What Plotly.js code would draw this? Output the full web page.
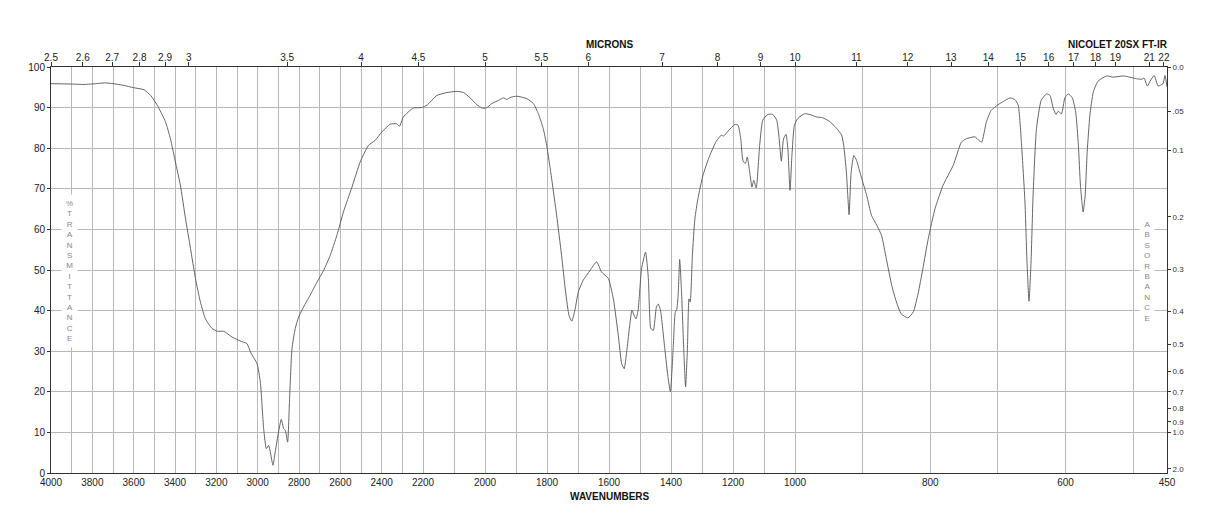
<!DOCTYPE html>
<html><head><meta charset="utf-8">
<script src="https://cdn.plot.ly/plotly-3.0.1.min.js"></script>
<style>html,body{margin:0;padding:0;background:#fff}#chart{width:1218px;height:528px}</style>
</head><body><div id="chart"></div>
<script>
// Spectrum: wavenumber (cm-1) and %T
const wavenumbers = [
4000,3900,3840,3780,3740,3700,3650,3600,3550,3518,3486,3446,3422,3398,3374,3349,3325,3301,3277,3253,
3221,3196,3164,3124,3084,3052,3035,3003,2987,2971,2958,2947,2939,2926,2915,2899,2886,2874,2866,2855,
2845,2834,2818,2802,2778,2746,2713,2681,2649,2617,2585,2544,2504,2464,2432,2399,2359,2327,2314,2295,
2247,2207,2187,2155,2123,2091,2069,2048,2026,2010,1996,1978,1956,1940,1930,1919,1897,1865,1844,1828,
1812,1801,1785,1769,1753,1740,1729,1720,1710,1699,1683,1661,1640,1624,1602,1586,1570,1559,1551,1543,
1526,1521,1513,1506,1495,1482,1473,1465,1457,1447,1441,1434,1420,1409,1402,1393,1386,1382,1377,1372,
1366,1359,1353,1347,1342,1338,1331,1323,1313,1297,1275,1254,1238,1230,1216,1195,1184,1175,1168,1160,
1154,1146,1139,1133,1125,1114,1104,1088,1072,1059,1051,1044,1037,1029,1023,1016,1010,1002,996,986,
978,968,959,949,939,931,928,924,922,920,917,913,909,902,894,887,879,872,865,857,
850,843,833,825,818,811,803,793,781,766,754,747,734,728,724,717,710,700,692,682,
675,670,665,660,657,654,651,648,643,636,628,623,618,614,611,606,601,596,590,585,
581,578,574,571,568,564,559,552,539,530,515,505,495,487,484,479,475,469,463,456,
453,450];
const transmittance = [
95.9,95.8,95.7,95.9,96.1,95.9,95.5,94.9,94.4,93.0,90.6,86.5,82.3,76.6,70.9,62.6,55.3,47.9,42.1,38.0,
35.6,34.9,34.9,33.5,32.5,31.9,29.8,26.9,22.4,10.9,6.0,6.8,5.2,1.9,5.2,10.1,13.2,10.9,10.5,7.6,
19.1,30.6,35.6,38.4,40.9,43.8,47.0,49.9,53.6,58.5,64.3,70.4,76.6,80.7,81.9,84.0,85.9,86.0,85.4,87.7,
89.9,90.0,90.6,93.0,93.7,94.0,93.7,92.4,90.7,89.9,89.9,91.0,91.8,92.4,92.0,92.5,92.8,92.2,91.0,88.5,
84.8,80.7,72.5,63.5,53.6,44.6,38.8,37.4,40.1,44.6,47.5,49.9,52.0,49.5,47.9,42.9,33.9,26.9,25.7,29.8,
40.1,39.2,38.0,40.1,50.3,54.4,47.9,35.6,35.1,40.9,41.6,40.1,30.6,23.2,20.0,30.6,39.7,40.1,43.8,52.6,
44.6,30.6,21.2,30.6,42.9,42.1,53.6,62.6,67.6,73.3,78.2,81.7,83.2,83.0,84.2,85.8,85.7,82.3,77.0,76.2,
77.8,74.1,70.4,72.1,70.2,80.7,86.9,88.3,88.3,86.9,82.3,76.8,82.3,83.4,79.9,69.6,78.2,85.6,87.3,88.5,
88.3,87.7,87.5,86.6,85.0,83.2,80.7,74.1,68.4,63.6,74.1,78.2,77.0,72.9,68.4,63.5,61.0,58.5,52.8,46.2,
42.1,39.2,38.2,39.7,44.2,50.3,57.7,65.1,70.9,75.8,81.5,82.3,82.8,81.9,81.5,86.5,89.3,90.7,91.5,92.4,
92.0,90.6,80.7,66.7,52.0,42.3,52.0,68.4,84.8,91.8,93.4,93.0,89.7,88.3,89.1,88.5,92.4,93.4,92.4,88.9,
80.7,70.9,64.3,68.4,79.1,88.1,93.8,96.5,97.8,97.5,97.8,97.5,97.1,97.0,97.3,95.3,96.5,97.9,95.3,95.9,
97.9,95.1];

// Axis labels
const wavenumberLabels = [4000,3800,3600,3400,3200,3000,2800,2600,2400,2200,2000,1800,1600,1400,1200,1000,800,600,450];
const micronLabels = [2.5,2.6,2.7,2.8,2.9,3,3.5,4,4.5,5,5.5,6,7,8,9,10,11,12,13,14,15,16,17,18,19,21,22];
const absorbanceValues = [0,0.05,0.1,0.2,0.3,0.4,0.5,0.6,0.7,0.8,0.9,1.0,2.0];
const absorbanceLabels = ['0.0','.05','0.1','0.2','0.3','0.4','0.5','0.6','0.7','0.8','0.9','1.0','2.0'];

// Piecewise-linear wavenumber scale (three equal-width panels: 4000-2200, 2200-1000, 1000-450)
function u(wn){
  if (wn >= 2200) return (4000 - wn) / 1800;
  if (wn >= 1000) return 1 + (2200 - wn) / 1200;
  return 2 + (1000 - wn) / 550;
}

const gridWn = [];
for (let w = 4000; w >= 500; w -= 100) gridWn.push(w);
gridWn.push(450);
const xTickVals = gridWn.map(u);
const xTickText = gridWn.map(w => wavenumberLabels.includes(w) ? String(w) : '');

const FONT = 'Liberation Sans, Arial, Helvetica, sans-serif';
const GRID = '#b8b8b8';
const AX = '#333333';

const trace = {
  x: wavenumbers.map(u), y: transmittance,
  type: 'scatter', mode: 'lines',
  line: {color: '#555555', width: 0.9, shape: 'spline', smoothing: 0.5},
  hoverinfo: 'skip', showlegend: false
};
const topDummy = {x: [0, 3], y: [0, 0], xaxis: 'x2', yaxis: 'y', mode: 'none', hoverinfo: 'skip', showlegend: false};
const rightDummy = {x: [0, 3], y: [0, 0], xaxis: 'x', yaxis: 'y2', mode: 'none', hoverinfo: 'skip', showlegend: false};

const layout = {
  width: 1218, height: 528,
  margin: {l: 51, r: 51, t: 67, b: 55, pad: 0},
  paper_bgcolor: '#ffffff', plot_bgcolor: '#ffffff',
  font: {family: FONT, size: 10, color: '#222'},
  showlegend: false,
  xaxis: {
    range: [0, 3], tickmode: 'array', tickvals: xTickVals, ticktext: xTickText,
    ticks: '', showgrid: true, gridcolor: GRID, gridwidth: 1, zeroline: false,
    showline: true, linecolor: AX, linewidth: 1, mirror: true,
    tickfont: {size: 10, color: '#222'}
  },
  xaxis2: {
    overlaying: 'x', side: 'top', range: [0, 3], tickmode: 'array',
    tickvals: micronLabels.map(m => u(10000 / m)), ticktext: micronLabels.map(String),
    ticks: 'outside', ticklen: 4, tickcolor: AX, tickwidth: 1, ticklabelstandoff: -3,
    showgrid: false, zeroline: false, showline: false,
    tickfont: {size: 10, color: '#222'}
  },
  yaxis: {
    range: [0, 100], tickmode: 'linear', tick0: 0, dtick: 10,
    ticks: 'outside', ticklen: 3, tickcolor: AX,
    showgrid: true, gridcolor: GRID, gridwidth: 1, zeroline: false,
    showline: true, linecolor: AX, linewidth: 1, mirror: true,
    tickfont: {size: 10, color: '#222'}
  },
  yaxis2: {
    overlaying: 'y', side: 'right', range: [0, 100], tickmode: 'array',
    tickvals: absorbanceValues.map(a => 100 * Math.pow(10, -a)), ticktext: absorbanceLabels,
    ticks: 'outside', ticklen: 3, tickcolor: AX,
    showgrid: false, zeroline: false, showline: false,
    tickfont: {size: 8, color: '#333'}
  },
  annotations: [
    {text: '<b>MICRONS</b>', xref: 'paper', yref: 'paper', x: 0.501, y: 1.056, xanchor: 'center', yanchor: 'middle', showarrow: false, font: {size: 10, color: '#111'}},
    {text: '<b>NICOLET 20SX FT-IR</b>', xref: 'paper', yref: 'paper', x: 1.003, y: 1.056, xanchor: 'right', yanchor: 'middle', showarrow: false, font: {size: 10, color: '#111'}},
    {text: '<b>WAVENUMBERS</b>', xref: 'paper', yref: 'paper', x: 0.501, y: -0.057, xanchor: 'center', yanchor: 'middle', showarrow: false, font: {size: 10, color: '#111'}},
    {text: '%<br>T<br>R<br>A<br>N<br>S<br>M<br>I<br>T<br>T<br>A<br>N<br>C<br>E', xref: 'paper', yref: 'paper', x: 0.017, y: 0.4975, xanchor: 'center', yanchor: 'middle', showarrow: false, bgcolor: '#ffffff', borderpad: 4, font: {size: 8, color: '#888'}},
    {text: 'A<br>B<br>S<br>O<br>R<br>B<br>A<br>N<br>C<br>E', xref: 'paper', yref: 'paper', x: 0.9823, y: 0.4975, xanchor: 'center', yanchor: 'middle', showarrow: false, bgcolor: '#ffffff', borderpad: 4, font: {size: 8, color: '#888'}}
  ]
};

Plotly.newPlot('chart', [trace, topDummy, rightDummy], layout, {staticPlot: true, displayModeBar: false});
</script>
</body></html>
